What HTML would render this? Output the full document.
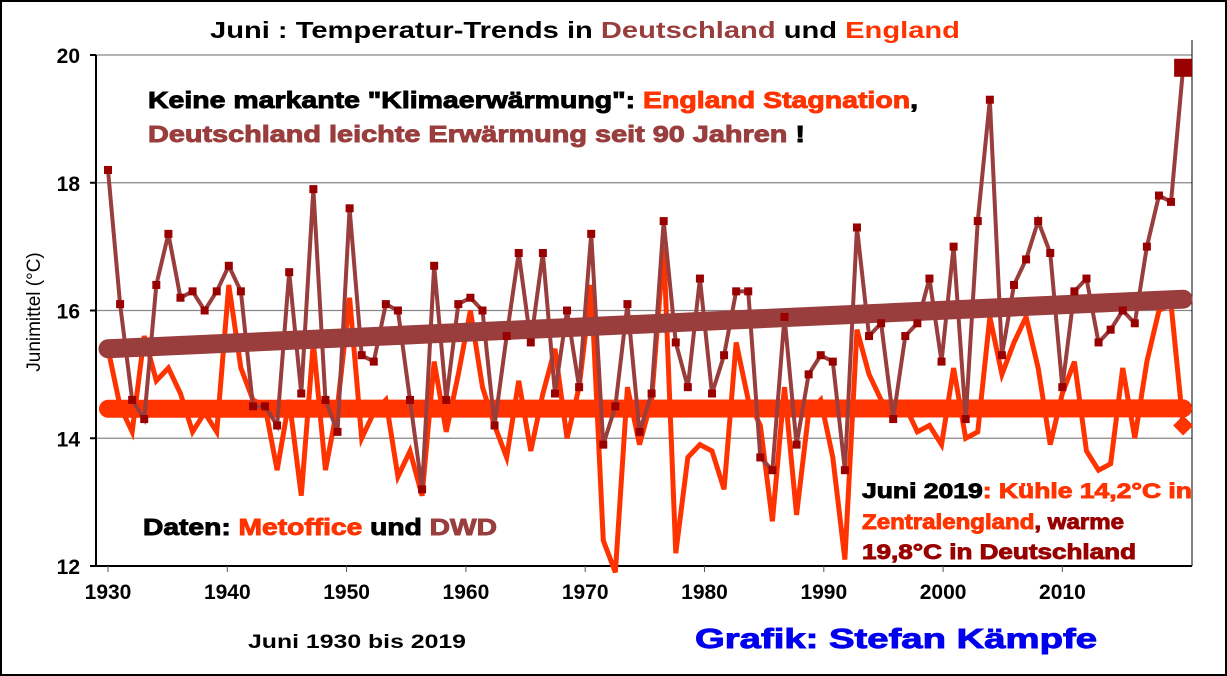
<!DOCTYPE html>
<html><head><meta charset="utf-8"><style>
body{margin:0;background:#fff;font-family:"Liberation Sans",Arial,sans-serif}
svg{display:block}
text{font-family:"Liberation Sans",Arial,sans-serif;font-weight:bold}
.h{stroke-width:0.9px;paint-order:fill}
</style></head><body>
<svg id="c" width="1227" height="676">
<rect x="1" y="1" width="1225" height="674" fill="#fff" stroke="#000" stroke-width="2"/>
<g id="grid"></g><g id="series"></g>
<text x="210" y="38" font-size="23" textLength="750" lengthAdjust="spacingAndGlyphs">Juni : Temperatur-Trends in <tspan fill="#993d3d">Deutschland</tspan> und <tspan fill="#ff3300">England</tspan></text>
<text class="h" x="148" y="108" font-size="23" stroke="#000" textLength="770" lengthAdjust="spacingAndGlyphs">Keine markante "Klimaerwärmung": <tspan fill="#ff3300" stroke="#ff3300">England Stagnation</tspan>,</text>
<text class="h" x="148" y="142" font-size="23" fill="#993d3d" stroke="#993d3d" textLength="657" lengthAdjust="spacingAndGlyphs">Deutschland leichte Erwärmung seit 90 Jahren <tspan fill="#000" stroke="#000">!</tspan></text>
<text class="h" x="143" y="535" font-size="23" stroke="#000" textLength="354" lengthAdjust="spacingAndGlyphs">Daten: <tspan fill="#ff3300" stroke="#ff3300">Metoffice</tspan> und <tspan fill="#993d3d" stroke="#993d3d">DWD</tspan></text>
<text class="h" x="862" y="498" font-size="21" stroke="#000" textLength="330" lengthAdjust="spacingAndGlyphs">Juni 2019<tspan fill="#ff3300" stroke="#ff3300">: Kühle 14,2°C in</tspan></text>
<text class="h" x="862" y="529" font-size="21" fill="#ff3300" stroke="#ff3300" textLength="262" lengthAdjust="spacingAndGlyphs">Zentralengland<tspan fill="#990000" stroke="#990000">, warme</tspan></text>
<text class="h" x="862" y="559" font-size="21" fill="#990000" stroke="#990000" textLength="274" lengthAdjust="spacingAndGlyphs">19,8°C in Deutschland</text>
<text x="248" y="648" font-size="19" textLength="218" lengthAdjust="spacingAndGlyphs">Juni 1930 bis 2019</text>
<text class="h" x="695" y="648" font-size="28" fill="#0000ee" stroke="#0000ee" textLength="402" lengthAdjust="spacingAndGlyphs">Grafik: Stefan Kämpfe</text>
<text transform="translate(40,312) rotate(-90)" font-size="19" text-anchor="middle" style="font-weight:normal">Junimittel (°C)</text>
</svg>
<script>
const years=[];for(let y=1930;y<=2019;y++)years.push(y);
const dwd=[18.2,16.1,14.6,14.3,16.4,17.2,16.2,16.3,16.0,16.3,16.7,16.3,14.5,14.5,14.2,16.6,14.7,17.9,14.6,14.1,17.6,15.3,15.2,16.1,16.0,14.6,13.2,16.7,14.6,16.1,16.2,16.0,14.2,15.6,16.9,15.5,16.9,14.7,16.0,14.8,17.2,13.9,14.5,16.1,14.1,14.7,17.4,15.5,14.8,16.5,14.7,15.3,16.3,16.3,13.7,13.5,15.9,13.9,15.0,15.3,15.2,13.5,17.3,15.6,15.8,14.3,15.6,15.8,16.5,15.2,17.0,14.3,17.4,19.3,15.3,16.4,16.8,17.4,16.9,14.8,16.3,16.5,15.5,15.7,16.0,15.8,17.0,17.8,17.7,19.8];
const eng=[15.4,14.5,14.1,15.6,14.9,15.1,14.7,14.1,14.4,14.1,16.4,15.1,14.6,14.5,13.5,14.6,13.1,15.5,13.5,14.5,16.2,14.0,14.4,14.6,13.4,13.8,13.1,15.2,14.1,15.0,16.0,14.8,14.2,13.7,14.9,13.8,14.7,15.4,14.0,14.8,16.4,12.4,11.9,14.8,13.9,14.6,17.0,12.2,13.7,13.9,13.8,13.2,15.5,14.6,14.2,12.7,14.8,12.8,14.4,14.6,13.7,12.1,15.7,15.0,14.6,14.4,14.5,14.1,14.2,13.9,15.1,14.0,14.1,15.9,15.0,15.5,15.9,15.1,13.9,14.7,15.2,13.8,13.5,13.6,15.1,14.0,15.2,16.0,16.1,14.2];
const yTicks=[12,14,16,18,20];
const xTicks=[1930,1940,1950,1960,1970,1980,1990,2000,2010];
const NS='http://www.w3.org/2000/svg';
const X=y=>108+(y-1930)*12.08, Y=v=>566-(v-12)*63.875;
const L=96,R=1192,T=55,B=566;
const g=document.getElementById('grid'),s=document.getElementById('series');
function mk(p,tag,a){const e=document.createElementNS(NS,tag);for(const k in a)e.setAttribute(k,a[k]);p.appendChild(e);return e;}
yTicks.forEach(v=>{
 const ln=mk(g,'line',{x1:L,x2:R,y1:Y(v),y2:Y(v),stroke:v==12?'#000':'#888','stroke-width':v==12?2:1.2});
 
 
 mk(g,'line',{x1:L-6,x2:L,y1:Y(v),y2:Y(v),stroke:'#000','stroke-width':2});
 const t=mk(g,'text',{x:L-16,y:Y(v)+8,'font-size':21,'text-anchor':'end'});t.textContent=v;
 
 
});
mk(g,'line',{x1:L,x2:L,y1:T,y2:B,stroke:'#000','stroke-width':2});
mk(g,'line',{x1:R,x2:R,y1:T-15,y2:B,stroke:'#000','stroke-width':1});
xTicks.forEach((yr,i)=>{
 const x=X(yr)-1.5*i;
 mk(g,'line',{x1:x,x2:x,y1:B,y2:B+6,stroke:'#555','stroke-width':1});
 const t=mk(g,'text',{x:x,y:B+33,'font-size':21,'text-anchor':'middle'});t.textContent=yr;
 
 
});
function line(d,col,w,name){const p=mk(s,'polyline',{points:d.map((v,i)=>X(years[i])+','+Y(v)).join(' '),fill:'none',stroke:col,'stroke-width':w,'stroke-linejoin':'miter'});
 
 }
function trend(d,col,w,name){const n=d.length;let mx=0,my=0;years.forEach((y,i)=>{mx+=y;my+=d[i]});mx/=n;my/=n;let a=0,b=0;years.forEach((y,i)=>{a+=(y-mx)*(d[i]-my);b+=(y-mx)**2});const k=a/b;
 const p=mk(s,'line',{x1:X(1930),y1:Y(my+k*(1930-mx)),x2:X(2019),y2:Y(my+k*(2019-mx)),stroke:col,'stroke-width':w,'stroke-linecap':'round'});
 
 }
line(eng,'#ff3300',5,'england-line');
trend(eng,'#ff3300',18,'england-trend');
trend(dwd,'#993d3d',19,'germany-trend');
line(dwd,'#993d3d',4,'germany-line');
dwd.forEach((v,i)=>{const last=i==dwd.length-1,sz=last?18:8;
 const r=mk(s,'rect',{x:X(years[i])-sz/2,y:Y(v)-sz/2,width:sz,height:sz,fill:'#990000'});
 
 });
const lx=X(2019),ly=Y(eng[eng.length-1]);
const dm=mk(s,'polygon',{points:`${lx-10},${ly} ${lx},${ly-10} ${lx+10},${ly} ${lx},${ly+10}`,fill:'#ff3300'});


</script>
</body></html>
